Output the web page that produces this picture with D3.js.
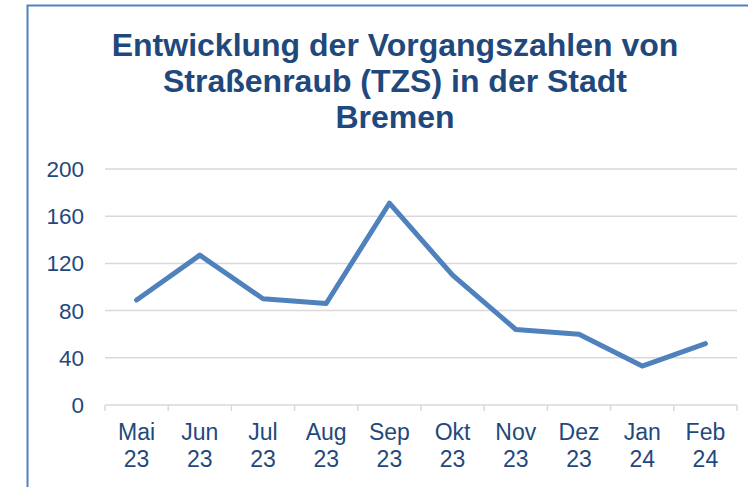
<!DOCTYPE html>
<html>
<head>
<meta charset="utf-8">
<script src="https://cdn.jsdelivr.net/npm/d3@7"></script>
<style>
  body { margin: 0; background: #fff; }
  svg { display: block; font-family: "Liberation Sans", Arial, sans-serif; }
</style>
</head>
<body>
<svg id="chart"></svg>
<script>
// data
var months = ["Mai", "Jun", "Jul", "Aug", "Sep", "Okt", "Nov", "Dez", "Jan", "Feb"];
var years = ["23", "23", "23", "23", "23", "23", "23", "23", "24", "24"];
var cases = [89, 127, 90, 86, 171, 110, 64, 60, 33, 52];
var yTicks = [0, 40, 80, 120, 160, 200];
var titleLines = ["Entwicklung der Vorgangszahlen von", "Straßenraub (TZS) in der Stadt", "Bremen"];

var W = 748, H = 487;
var textColor = "#1F497D";

var svg = d3.select("#chart").attr("width", W).attr("height", H);

// frame of the chart box
svg.append("path")
  .attr("d", "M27.5," + H + " V5.5 H" + W)
  .attr("fill", "none")
  .attr("stroke", "#4F81BD")
  .attr("stroke-width", 2);

// title
svg.append("text")
  .attr("text-anchor", "middle")
  .attr("fill", textColor)
  .style("font-weight", "bold")
  .style("font-size", "32px")
  .selectAll("tspan")
  .data(titleLines)
  .enter().append("tspan")
    .attr("x", 395)
    .attr("y", function(d, i) { return 56 + i * 36; })
    .text(function(d) { return d; });

var x = d3.scaleBand().domain(months).range([105, 737]);
var y = d3.scaleLinear().domain([0, 200]).range([405, 169]);

// gridlines
svg.append("g")
  .selectAll("line")
  .data(yTicks.filter(function(d) { return d > 0; }))
  .enter().append("line")
    .attr("x1", 105).attr("x2", 737)
    .attr("y1", function(d) { return y(d); })
    .attr("y2", function(d) { return y(d); })
    .attr("stroke", "#D9D9D9")
    .attr("stroke-width", 1.5);

// y labels
svg.append("g")
  .selectAll("text")
  .data(yTicks)
  .enter().append("text")
    .attr("x", 84)
    .attr("y", function(d) { return y(d) + 8; })
    .attr("text-anchor", "end")
    .attr("fill", textColor)
    .style("font-size", "22.5px")
    .text(function(d) { return d; });

// x axis line + ticks
var xAxis = svg.append("g");
xAxis.append("line")
  .attr("x1", 105).attr("x2", 737)
  .attr("y1", y(0)).attr("y2", y(0))
  .attr("stroke", "#D9D9D9")
  .attr("stroke-width", 1.5);
var tickPos = months.map(function(m) { return x(m); }).concat([x.range()[1]]);
xAxis.selectAll(".tk")
  .data(tickPos)
  .enter().append("line")
    .attr("class", "tk")
    .attr("x1", function(d) { return d; })
    .attr("x2", function(d) { return d; })
    .attr("y1", y(0)).attr("y2", y(0) + 6)
    .attr("stroke", "#D9D9D9")
    .attr("stroke-width", 1.5);

var lbl = xAxis.selectAll(".lbl")
  .data(months)
  .enter().append("text")
    .attr("class", "lbl")
    .attr("text-anchor", "middle")
    .attr("fill", textColor)
    .style("font-size", "23px");
lbl.append("tspan")
  .attr("x", function(d) { return x(d) + x.bandwidth() / 2; })
  .attr("y", 440)
  .text(function(d) { return d; });
lbl.append("tspan")
  .attr("x", function(d) { return x(d) + x.bandwidth() / 2; })
  .attr("y", 467)
  .text(function(d, i) { return years[i]; });

// line
var line = d3.line()
  .x(function(d, i) { return x(months[i]) + x.bandwidth() / 2; })
  .y(function(d) { return y(d); });

svg.append("path")
  .datum(cases)
  .attr("d", line)
  .attr("fill", "none")
  .attr("stroke", "#4F81BD")
  .attr("stroke-width", 5)
  .attr("stroke-linejoin", "round")
  .attr("stroke-linecap", "round");
</script>
</body>
</html>
